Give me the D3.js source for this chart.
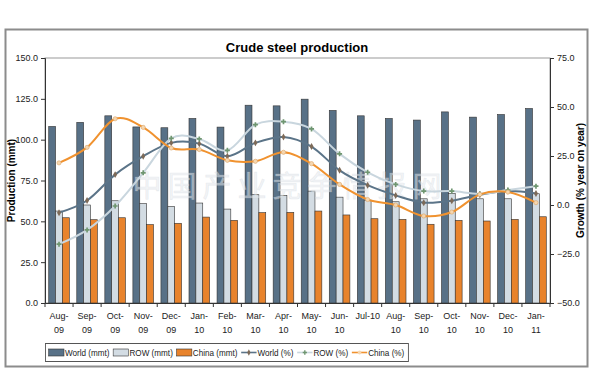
<!DOCTYPE html>
<html>
<head>
<meta charset="utf-8">
<script src="https://cdn.jsdelivr.net/npm/d3@7"></script>
<style>
body { margin: 0; background: #fff; }
svg { font-family: "Liberation Sans", Arial, sans-serif; }
</style>
</head>
<body>
<script>
var w = 594;
var h = 380;

var months = ["Aug-09", "Sep-09", "Oct-09", "Nov-09", "Dec-09", "Jan-10", "Feb-10",
              "Mar-10", "Apr-10", "May-10", "Jun-10", "Jul-10", "Aug-10", "Sep-10",
              "Oct-10", "Nov-10", "Dec-10", "Jan-11"];

var worldMmt = [108.1, 110.6, 114.6, 107.8, 107.3, 113.0, 107.7, 121.1, 120.7,
                124.8, 117.9, 114.6, 113.0, 112.0, 117.0, 113.8, 115.4, 119.1];
var rowMmt = [56.3, 60.0, 62.6, 60.8, 59.1, 61.2, 57.5, 66.3, 65.9,
              68.5, 64.8, 63.0, 62.0, 63.8, 67.0, 63.8, 63.8, 66.9];
var chinaMmt = [52.2, 51.0, 52.2, 48.0, 48.8, 52.6, 50.6, 55.3, 55.5,
                56.3, 53.9, 51.6, 51.2, 48.2, 50.6, 50.2, 51.2, 52.8];

var worldPct = [-3.9, 2.3, 15.5, 24.9, 31.7, 31.3, 24.9, 31.7, 34.7,
                29.8, 17.7, 10.1, 4.9, 1.2, 2.2, 5.2, 7.1, 5.9];
var rowPct = [-20.0, -12.7, -0.5, 16.4, 34.0, 33.7, 27.9, 41.0, 42.5,
              38.8, 26.1, 16.7, 10.5, 7.1, 7.1, 5.7, 7.6, 9.6];
var chinaPct = [21.5, 29.4, 44.0, 39.6, 29.1, 28.3, 22.8, 22.3, 26.9,
                21.1, 10.5, 2.8, 0.0, -5.6, -3.6, 5.4, 6.6, 1.2];

var leftTicks = [0, 25, 50, 75, 100, 125, 150];
var rightTicks = [-50, -25, 0, 25, 50, 75];

var barSeries = [
    {name: "World (mmt)", values: worldMmt, fill: "#587187"},
    {name: "ROW (mmt)", values: rowMmt, fill: "#d3dce3"},
    {name: "China (mmt)", values: chinaMmt, fill: "#e8832c"}
];
var lineSeries = [
    {name: "World (%)", values: worldPct, stroke: "#5b7488", marker: "#7d6a58", shape: d3.symbolDiamond},
    {name: "ROW (%)", values: rowPct, stroke: "#c9d6de", marker: "#6f9670", shape: d3.symbolCross},
    {name: "China (%)", values: chinaPct, stroke: "#f0922f", marker: "#f6d6ae", shape: d3.symbolCircle}
];

var pLeft = 45, pRight = 550, pTop = 58, pBottom = 303;

var svg = d3.select("body").append("svg")
    .attr("width", w)
    .attr("height", h);

// outer chart frame
svg.append("rect")
    .attr("x", 5.5).attr("y", 29.5)
    .attr("width", 582).attr("height", 337)
    .attr("fill", "#fff")
    .attr("stroke", "#8c8c8c")
    .attr("stroke-width", 2);

svg.append("text")
    .attr("x", 297).attr("y", 52)
    .attr("text-anchor", "middle")
    .attr("font-size", "13px")
    .attr("font-weight", "bold")
    .text("Crude steel production");

var xScale = d3.scaleBand()
    .domain(months)
    .range([pLeft, pRight]);
var yScale = d3.scaleLinear()
    .domain([0, 150])
    .range([pBottom, pTop]);
var y2Scale = d3.scaleLinear()
    .domain([-50, 75])
    .range([pBottom, pTop]);

var bw = xScale.bandwidth() * 0.245;
var groupOff = (xScale.bandwidth() - bw * 3) / 2;

// plot area border
svg.append("rect")
    .attr("x", pLeft).attr("y", pTop)
    .attr("width", pRight - pLeft).attr("height", pBottom - pTop)
    .attr("fill", "none")
    .attr("stroke", "#9a9a9a")
    .attr("stroke-width", 1);

barSeries.forEach(function(s, k) {
    svg.append("g").selectAll("rect")
        .data(s.values)
        .enter()
        .append("rect")
        .attr("x", function(d, i) {
            return xScale(months[i]) + groupOff + k * bw;
        })
        .attr("y", function(d) { return yScale(d); })
        .attr("width", bw)
        .attr("height", function(d) { return pBottom - yScale(d); })
        .attr("fill", s.fill)
        .attr("stroke", "#333")
        .attr("stroke-width", 0.6);
});

// watermark
svg.append("text")
    .attr("x", 290).attr("y", 197)
    .attr("text-anchor", "middle")
    .attr("font-family", "Noto Sans CJK SC")
    .attr("font-size", "29px")
    .attr("letter-spacing", "6px")
    .attr("fill", "#e6eaee")
    .attr("fill-opacity", 0.5)
    .attr("stroke", "#c8d0d6")
    .attr("stroke-opacity", 0.35)
    .attr("stroke-width", 0.6)
    .text("中国产业竞争情报网");

var line = d3.line()
    .x(function(d, i) { return xScale(months[i]) + xScale.bandwidth() / 2; })
    .y(function(d) { return y2Scale(d); })
    .curve(d3.curveCatmullRom.alpha(0));

lineSeries.forEach(function(s) {
    svg.append("path")
        .datum(s.values)
        .attr("d", line)
        .attr("fill", "none")
        .attr("stroke", s.stroke)
        .attr("stroke-width", 2);
    svg.append("g").selectAll("path")
        .data(s.values)
        .enter()
        .append("path")
        .attr("transform", function(d, i) {
            return "translate(" + (xScale(months[i]) + xScale.bandwidth() / 2) + "," + y2Scale(d) + ")";
        })
        .attr("d", d3.symbol().type(s.shape).size(14))
        .attr("fill", s.marker)
        .attr("stroke", s.shape === d3.symbolCircle ? "#d9a46a" : "none")
        .attr("stroke-width", 0.6);
});

// axes
var xAxis = d3.axisBottom(xScale).tickSize(0).tickFormat("");
var gx = svg.append("g")
    .attr("class", "axis")
    .attr("transform", "translate(0," + pBottom + ")")
    .call(xAxis);
gx.select(".domain").attr("stroke", "#333");
gx.selectAll(".sep")
    .data(d3.range(months.length + 1))
    .enter()
    .append("line")
    .attr("x1", function(i) { return pLeft + i * xScale.step(); })
    .attr("x2", function(i) { return pLeft + i * xScale.step(); })
    .attr("y1", 0).attr("y2", 4)
    .attr("stroke", "#333");

gx.selectAll(".lbl")
    .data(months)
    .enter()
    .append("text")
    .attr("text-anchor", "middle")
    .attr("font-size", "9px")
    .attr("fill", "#222")
    .attr("transform", function(d) {
        return "translate(" + (xScale(d) + xScale.bandwidth() / 2) + ",0)";
    })
    .each(function(d) {
        var t = d3.select(this);
        if (d === "Jul-10") {
            t.append("tspan").attr("x", 0).attr("y", 16).text("Jul-10");
        } else {
            var parts = d.split("-");
            t.append("tspan").attr("x", 0).attr("y", 16).text(parts[0] + "-");
            t.append("tspan").attr("x", 0).attr("y", 30).text(parts[1]);
        }
    });

var yAxis = d3.axisLeft(yScale)
    .tickValues(leftTicks)
    .tickSize(4)
    .tickFormat(d3.format(".1f"));
var gy = svg.append("g")
    .attr("class", "axis")
    .attr("transform", "translate(" + pLeft + ",0)")
    .call(yAxis);

var y2Axis = d3.axisRight(y2Scale)
    .tickValues(rightTicks)
    .tickSize(4)
    .tickFormat(d3.format(".1f"));
var gy2 = svg.append("g")
    .attr("class", "axis")
    .attr("transform", "translate(" + pRight + ",0)")
    .call(y2Axis);

[gy, gy2].forEach(function(g) {
    g.select(".domain").attr("stroke", "#333");
    g.selectAll(".tick line").attr("stroke", "#333");
    g.selectAll(".tick text")
        .attr("font-size", "9px")
        .attr("font-family", "Liberation Sans, Arial, sans-serif")
        .attr("fill", "#222");
});

svg.append("text")
    .attr("transform", "translate(15," + ((pTop + pBottom) / 2) + ") rotate(-90)")
    .attr("text-anchor", "middle")
    .attr("font-size", "10px")
    .attr("font-weight", "bold")
    .text("Production (mmt)");

svg.append("text")
    .attr("transform", "translate(584," + ((pTop + pBottom) / 2) + ") rotate(-90)")
    .attr("text-anchor", "middle")
    .attr("font-size", "10px")
    .attr("font-weight", "bold")
    .text("Growth (% year on year)");

// legend (squeezed horizontally like the narrow original font)
var legend = svg.append("g").attr("transform", "translate(45,343) scale(0.905,1)");
var legendBox = legend.append("rect")
    .attr("x", 0.5).attr("y", 0.5)
    .attr("height", 18)
    .attr("fill", "#fff")
    .attr("stroke", "#555");

var lx = 4;
barSeries.forEach(function(s) {
    legend.append("rect")
        .attr("x", lx).attr("y", 6)
        .attr("width", 17).attr("height", 7)
        .attr("fill", s.fill)
        .attr("stroke", "#333")
        .attr("stroke-width", 0.6);
    var t = legend.append("text")
        .attr("x", lx + 18).attr("y", 13)
        .attr("font-size", "9px")
        .attr("fill", "#222")
        .text(s.name);
    lx += 18 + t.node().getComputedTextLength() + 4;
});
lineSeries.forEach(function(s) {
    legend.append("line")
        .attr("x1", lx).attr("x2", lx + 17)
        .attr("y1", 9.5).attr("y2", 9.5)
        .attr("stroke", s.stroke)
        .attr("stroke-width", 1.6);
    legend.append("path")
        .attr("transform", "translate(" + (lx + 8.5) + ",9.5)")
        .attr("d", d3.symbol().type(s.shape).size(12))
        .attr("fill", s.marker);
    var t = legend.append("text")
        .attr("x", lx + 18).attr("y", 13)
        .attr("font-size", "9px")
        .attr("fill", "#222")
        .text(s.name);
    lx += 18 + t.node().getComputedTextLength() + 4;
});
legendBox.attr("width", lx);
</script>
</body>
</html>
